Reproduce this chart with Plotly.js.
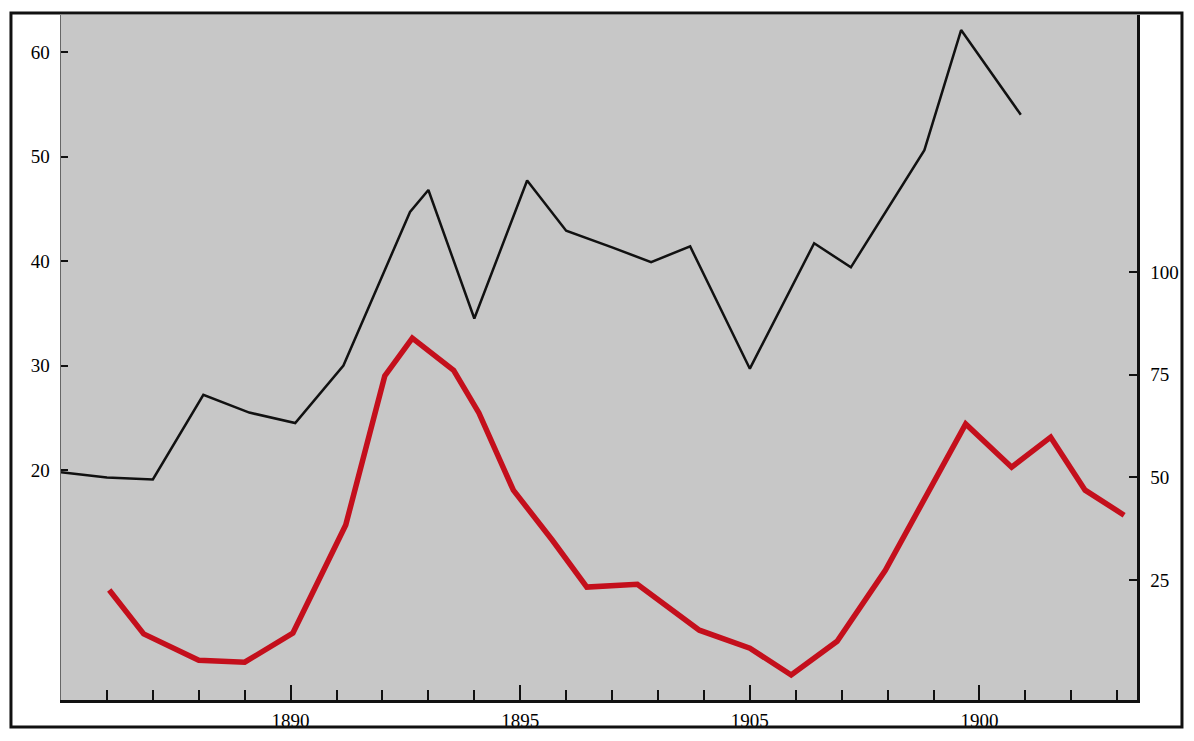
<!DOCTYPE html>
<html>
<head>
<meta charset="utf-8">
<script src="https://cdn.plot.ly/plotly-3.0.1.min.js"></script>
<style>html,body{margin:0;padding:0;background:#fff;}#chart{width:1194px;height:741px;}</style>
</head>
<body>
<div id="chart"></div>
<script>
// Black series (left axis)
const blackYears = [1885.0, 1886.0, 1887.0, 1888.1, 1889.1, 1890.1, 1891.15, 1892.6, 1893.0, 1894.0, 1895.15, 1896.0, 1897.0, 1897.85, 1898.7, 1900.0, 1901.4, 1902.2, 1903.8, 1904.6, 1905.9];
const blackValues = [19.8, 19.3, 19.1, 27.2, 25.5, 24.5, 30.0, 44.7, 46.8, 34.5, 47.7, 42.9, 41.3, 39.9, 41.4, 29.7, 41.7, 39.4, 50.6, 62.1, 54.0];

// Red series (right axis)
const redYears = [1886.05, 1886.8, 1888.0, 1889.0, 1890.05, 1891.2, 1892.05, 1892.65, 1893.55, 1894.1, 1894.85, 1895.7, 1896.45, 1897.55, 1898.9, 1900.0, 1900.9, 1901.9, 1902.95, 1903.6, 1904.7, 1905.7, 1906.55, 1907.3, 1908.15];
const redValues = [22.6, 11.9, 5.5, 5.0, 12.1, 38.4, 74.7, 83.9, 76.1, 65.7, 46.9, 34.7, 23.3, 24.0, 12.8, 8.4, 1.9, 10.1, 27.4, 40.8, 63.0, 52.5, 59.8, 46.9, 40.8];

// Tick labels (as printed)
const xTickVals = [1890, 1895, 1900, 1905];
const xTickText = ["1890", "1895", "1905", "1900"];
const leftTicks = [20, 30, 40, 50, 60];
const rightTicks = [25, 50, 75, 100];

const font = {family: "Liberation Serif, Times New Roman, serif", size: 19, color: "#000"};

const traces = [
  {x: blackYears, y: blackValues, type: "scatter", mode: "lines",
   line: {color: "#111111", width: 2.5}, yaxis: "y", hoverinfo: "skip"},
  {x: redYears, y: redValues, type: "scatter", mode: "lines",
   line: {color: "#c40f1c", width: 5.5}, yaxis: "y2", hoverinfo: "skip"}
];

const layout = {
  width: 1194, height: 741,
  margin: {l: 61, r: 57, t: 15, b: 41, pad: 0},
  paper_bgcolor: "#ffffff",
  plot_bgcolor: "#c7c7c7",
  showlegend: false,
  font: font,
  xaxis: {
    range: [1885.0, 1908.43],
    tickvals: xTickVals, ticktext: xTickText,
    ticks: "inside", ticklen: 15, tickwidth: 2, tickcolor: "#111",
    minor: {dtick: 1, tick0: 1885, ticks: "inside", ticklen: 10, tickwidth: 2, tickcolor: "#111", showgrid: false},
    showgrid: false, zeroline: false,
    showline: true, linecolor: "#111", linewidth: 2.5,
    ticklabelstandoff: 2,
    tickfont: font
  },
  yaxis: {
    range: [-2.0, 63.54],
    tickvals: leftTicks,
    ticks: "inside", ticklen: 7, tickwidth: 2, tickcolor: "#111",
    showgrid: false, zeroline: false,
    showline: true, linecolor: "#666", linewidth: 1.5,
    ticklabelstandoff: 6,
    tickfont: font
  },
  yaxis2: {
    range: [-4.2, 162.6],
    overlaying: "y", side: "right",
    tickvals: rightTicks,
    ticks: "inside", ticklen: 8, tickwidth: 2, tickcolor: "#111",
    showgrid: false, zeroline: false,
    showline: true, linecolor: "#111", linewidth: 2.5,
    ticklabelstandoff: 7,
    tickfont: font
  },
  shapes: [
    {type: "rect", xref: "paper", yref: "paper",
     x0: -0.0465, x1: 1.0418, y0: -0.0394, y1: 1.003,
     line: {color: "#111", width: 3}, fillcolor: "rgba(0,0,0,0)", layer: "above"}
  ]
};

Plotly.newPlot("chart", traces, layout, {staticPlot: true, displayModeBar: false});
</script>
</body>
</html>
